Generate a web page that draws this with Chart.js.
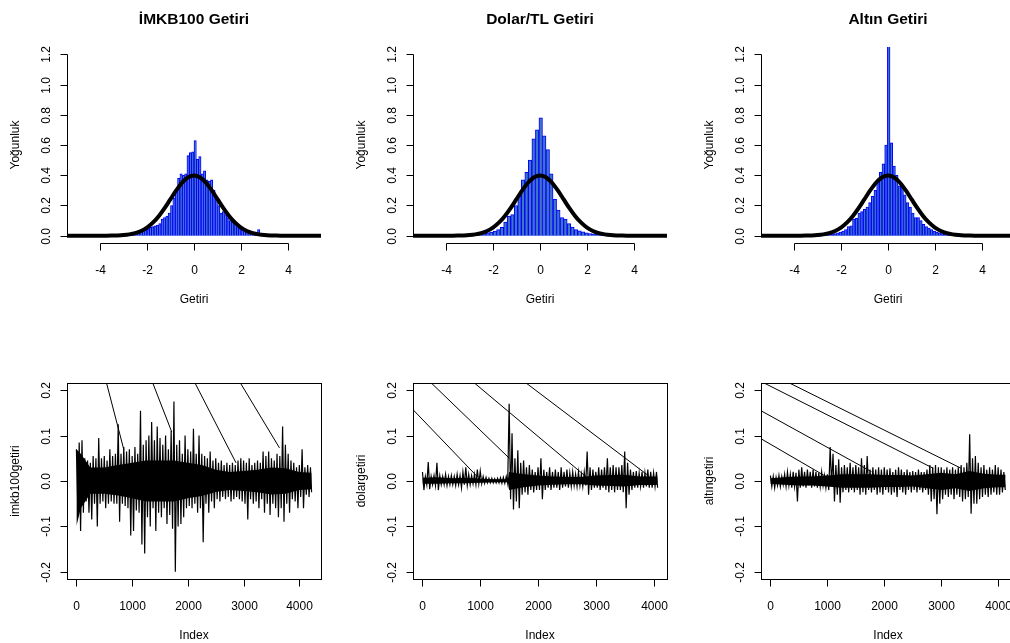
<!DOCTYPE html>
<html lang="tr">
<head>
<meta charset="utf-8">
<title>Getiri dağılımları</title>
<script src="https://cdn.jsdelivr.net/npm/chart.js@4.4.1/dist/chart.umd.min.js"></script>
<style>
  html, body { margin: 0; padding: 0; background: #fff; }
  body { width: 1010px; height: 643px; overflow: hidden; position: relative; }
  canvas { position: absolute; }
</style>
</head>
<body>
<canvas id="histImkb" width="347" height="321" style="left:0px;top:0px"></canvas>
<canvas id="histDolar" width="347" height="321" style="left:346px;top:0px"></canvas>
<canvas id="histAltin" width="347" height="321" style="left:694px;top:0px"></canvas>
<canvas id="seriesImkb" width="347" height="322" style="left:0px;top:321px"></canvas>
<canvas id="seriesDolar" width="347" height="322" style="left:346px;top:321px"></canvas>
<canvas id="seriesAltin" width="347" height="322" style="left:694px;top:321px"></canvas>
<script>
// ---- histogram data (density per bin, bins) ----
const imkbBinStart = -3.45, imkbBinWidth = 0.1;
const imkbDensity = [
  0.005, 0.01, 0.005, 0.008, 0.01, 0.01, 0.012, 0.015, 0.015, 0.02,
  0.02, 0.025, 0.03, 0.03, 0.035, 0.045, 0.055, 0.06, 0.065, 0.07,
  0.08, 0.11, 0.12, 0.13, 0.15, 0.2, 0.25, 0.3, 0.38, 0.41,
  0.40, 0.41, 0.53, 0.55, 0.555, 0.63, 0.505, 0.523, 0.41, 0.43,
  0.37, 0.36, 0.37, 0.3, 0.24, 0.2, 0.15, 0.16, 0.14, 0.12,
  0.1, 0.09, 0.08, 0.06, 0.05, 0.04, 0.035, 0.03, 0.025, 0.02,
  0.015, 0.012, 0.04, 0.01, 0.008, 0.006, 0.005, 0.006, 0.004, 0.004
];

const dolarBinStart = -3.27, dolarBinWidth = 0.15;
const dolarDensity = [
  0.004, 0.005, 0.006, 0.008, 0.01, 0.012, 0.015, 0.02, 0.025, 0.03,
  0.04, 0.055, 0.09, 0.13, 0.14, 0.2, 0.26, 0.37, 0.42, 0.5,
  0.64, 0.70, 0.78, 0.66, 0.57, 0.41, 0.24, 0.17, 0.12, 0.11,
  0.08, 0.057, 0.04, 0.033, 0.026, 0.02, 0.015, 0.012, 0.01, 0.008,
  0.006, 0.005, 0.005, 0.004, 0.003
];

const altinBinStart = -2.82, altinBinWidth = 0.114;
const altinDensity = [
  0.005, 0.006, 0.008, 0.01, 0.012, 0.015, 0.02, 0.025, 0.03, 0.04,
  0.06, 0.065, 0.11, 0.115, 0.15, 0.16, 0.175, 0.19, 0.22, 0.26,
  0.30, 0.37, 0.42, 0.475, 0.60, 1.26, 0.615, 0.46, 0.40, 0.33,
  0.32, 0.27, 0.22, 0.19, 0.15, 0.12, 0.12, 0.10, 0.075, 0.06,
  0.05, 0.04, 0.03, 0.025, 0.02, 0.015, 0.012, 0.01, 0.008, 0.006,
  0.005
];

// normal density curve drawn over every histogram
const normalX = [
  -5.5, -5.25, -5, -4.75, -4.5, -4.25, -4, -3.75, -3.5, -3.25, -3,
  -2.75, -2.5, -2.25, -2, -1.75, -1.5, -1.25, -1, -0.75, -0.5, -0.25,
  0, 0.25, 0.5, 0.75, 1, 1.25, 1.5, 1.75, 2, 2.25, 2.5, 2.75, 3,
  3.25, 3.5, 3.75, 4, 4.25, 4.5, 4.75, 5, 5.25, 5.5
];
const normalDensity = [
  0, 0, 0, 0, 0, 0, 0.0001, 0.0004, 0.0009, 0.002, 0.0044,
  0.0091, 0.0175, 0.0317, 0.054, 0.0863, 0.1295, 0.1826, 0.242, 0.3011, 0.3521, 0.3867,
  0.3989, 0.3867, 0.3521, 0.3011, 0.242, 0.1826, 0.1295, 0.0863, 0.054, 0.0317, 0.0175, 0.0091, 0.0044,
  0.002, 0.0009, 0.0004, 0.0001, 0, 0, 0, 0, 0, 0
];

const histXTicks = [-4, -2, 0, 2, 4];
const histYTicks = [0, 0.2, 0.4, 0.6, 0.8, 1.0, 1.2];

// ---- return series: high / low of each 50-observation block ----
const seriesStep = 50;
const imkbLength = 4221, dolarLength = 4070, altinLength = 4132;

const imkbUpper = [
  0.07, 0.085, 0.09, 0.05, 0.045, 0.04, 0.055, 0.05, 0.095, 0.05,
  0.055, 0.045, 0.07, 0.055, 0.06, 0.125, 0.06, 0.075, 0.065, 0.07,
  0.055, 0.075, 0.06, 0.155, 0.08, 0.09, 0.1, 0.13, 0.09, 0.12,
  0.095, 0.08, 0.1, 0.07, 0.11, 0.175, 0.08, 0.09, 0.06, 0.1,
  0.07, 0.065, 0.115, 0.06, 0.1, 0.06, 0.055, 0.05, 0.065, 0.045,
  0.05, 0.04, 0.045, 0.035, 0.04, 0.035, 0.04, 0.035, 0.045, 0.05,
  0.045, 0.04, 0.05, 0.035, 0.04, 0.045, 0.04, 0.065, 0.055, 0.065,
  0.05, 0.045, 0.06, 0.055, 0.12, 0.08, 0.06, 0.045, 0.04, 0.03,
  0.035, 0.07, 0.03, 0.035, 0.03
];
const imkbLower = [
  -0.06, -0.11, -0.07, -0.045, -0.07, -0.085, -0.05, -0.1, -0.05, -0.045,
  -0.06, -0.05, -0.045, -0.05, -0.05, -0.09, -0.05, -0.055, -0.06, -0.12,
  -0.11, -0.065, -0.07, -0.14, -0.16, -0.08, -0.1, -0.06, -0.11, -0.07,
  -0.08, -0.06, -0.095, -0.075, -0.105, -0.2, -0.1, -0.095, -0.08, -0.06,
  -0.055, -0.06, -0.05, -0.07, -0.06, -0.135, -0.05, -0.07, -0.045, -0.06,
  -0.04, -0.045, -0.035, -0.04, -0.035, -0.045, -0.04, -0.035, -0.04, -0.045,
  -0.05, -0.085, -0.04, -0.05, -0.045, -0.06, -0.04, -0.07, -0.05, -0.075,
  -0.05, -0.06, -0.08, -0.06, -0.09, -0.05, -0.07, -0.04, -0.045, -0.06,
  -0.035, -0.06, -0.03, -0.035, -0.025
];
// solid core of the band
const imkbCoreIndex = [1, 80, 250, 500, 750, 1000, 1250, 1500, 1750, 2000, 2250, 2500, 2750, 3000, 3250, 3500, 3750, 4000, 4221];
const imkbCoreUpper = [0.07, 0.06, 0.03, 0.03, 0.035, 0.04, 0.045, 0.045, 0.045, 0.04, 0.035, 0.025, 0.02, 0.022, 0.025, 0.03, 0.028, 0.02, 0.018];
const imkbCoreLower = [-0.1, -0.06, -0.028, -0.028, -0.032, -0.038, -0.045, -0.045, -0.045, -0.038, -0.033, -0.024, -0.02, -0.022, -0.025, -0.03, -0.028, -0.02, -0.018];

const dolarUpper = [
  0.02, 0.01, 0.042, 0.01, 0.012, 0.04, 0.012, 0.01, 0.015, 0.01,
  0.012, 0.01, 0.015, 0.012, 0.02, 0.03, 0.015, 0.012, 0.015, 0.025,
  0.022, 0.01, 0.008, 0.006, 0.006, 0.005, 0.006, 0.007, 0.008, 0.01,
  0.17, 0.105, 0.05, 0.068, 0.04, 0.045, 0.03, 0.035, 0.025, 0.02,
  0.03, 0.05, 0.025, 0.02, 0.03, 0.02, 0.025, 0.02, 0.03, 0.02,
  0.025, 0.018, 0.02, 0.015, 0.02, 0.015, 0.02, 0.065, 0.03, 0.025,
  0.02, 0.03, 0.025, 0.03, 0.05, 0.03, 0.035, 0.03, 0.03, 0.035,
  0.065, 0.04, 0.025, 0.02, 0.022, 0.018, 0.02, 0.018, 0.025, 0.02,
  0.018, 0.02
];
const dolarLower = [
  -0.02, -0.008, -0.018, -0.008, -0.01, -0.02, -0.008, -0.008, -0.01, -0.008,
  -0.008, -0.01, -0.008, -0.015, -0.008, -0.01, -0.008, -0.006, -0.008, -0.006,
  -0.006, -0.005, -0.004, -0.004, -0.004, -0.004, -0.004, -0.005, -0.005, -0.006,
  -0.04, -0.063, -0.045, -0.06, -0.03, -0.025, -0.03, -0.02, -0.025, -0.02,
  -0.02, -0.04, -0.02, -0.015, -0.02, -0.015, -0.015, -0.02, -0.015, -0.012,
  -0.015, -0.012, -0.01, -0.012, -0.01, -0.012, -0.01, -0.03, -0.02, -0.015,
  -0.015, -0.02, -0.015, -0.02, -0.025, -0.02, -0.025, -0.02, -0.02, -0.025,
  -0.06, -0.03, -0.02, -0.015, -0.015, -0.012, -0.015, -0.012, -0.015, -0.015,
  -0.012, -0.015
];
const dolarCoreIndex = [1, 250, 500, 750, 1000, 1250, 1480, 1500, 1750, 2000, 2250, 2500, 2750, 3000, 3250, 3500, 3750, 4000, 4070];
const dolarCoreUpper = [0.007, 0.008, 0.006, 0.007, 0.005, 0.004, 0.004, 0.02, 0.015, 0.012, 0.01, 0.009, 0.009, 0.012, 0.013, 0.014, 0.01, 0.01, 0.01];
const dolarCoreLower = [-0.006, -0.006, -0.005, -0.005, -0.004, -0.003, -0.003, -0.02, -0.014, -0.01, -0.008, -0.007, -0.007, -0.01, -0.011, -0.012, -0.009, -0.009, -0.008];

const altinUpper = [
  0.012, 0.01, 0.008, 0.012, 0.01, 0.015, 0.02, 0.015, 0.02, 0.018,
  0.025, 0.03, 0.02, 0.025, 0.02, 0.025, 0.02, 0.018, 0.02, 0.012,
  0.015, 0.075, 0.06, 0.035, 0.048, 0.03, 0.035, 0.03, 0.04, 0.03,
  0.035, 0.03, 0.05, 0.035, 0.055, 0.025, 0.03, 0.025, 0.03, 0.025,
  0.03, 0.025, 0.028, 0.02, 0.025, 0.03, 0.025, 0.02, 0.025, 0.02,
  0.022, 0.02, 0.025, 0.02, 0.02, 0.025, 0.035, 0.03, 0.035, 0.03,
  0.03, 0.025, 0.03, 0.025, 0.03, 0.025, 0.03, 0.035, 0.03, 0.04,
  0.103, 0.05, 0.055, 0.04, 0.03, 0.035, 0.025, 0.03, 0.025, 0.035,
  0.03, 0.025, 0.02
];
const altinLower = [
  -0.012, -0.015, -0.01, -0.012, -0.008, -0.012, -0.01, -0.015, -0.012, -0.045,
  -0.015, -0.012, -0.015, -0.01, -0.015, -0.012, -0.015, -0.012, -0.01, -0.015,
  -0.02, -0.01, -0.045, -0.03, -0.048, -0.025, -0.02, -0.025, -0.02, -0.025,
  -0.02, -0.03, -0.025, -0.03, -0.02, -0.025, -0.02, -0.03, -0.025, -0.03,
  -0.02, -0.025, -0.03, -0.025, -0.035, -0.02, -0.025, -0.03, -0.02, -0.025,
  -0.02, -0.025, -0.02, -0.025, -0.02, -0.03, -0.045, -0.04, -0.073, -0.05,
  -0.04, -0.03, -0.035, -0.03, -0.04, -0.03, -0.035, -0.045, -0.04, -0.035,
  -0.072, -0.05, -0.05, -0.04, -0.035, -0.03, -0.035, -0.03, -0.025, -0.03,
  -0.03, -0.025, -0.02
];
const altinCoreIndex = [1, 250, 500, 750, 1000, 1250, 1500, 1750, 2000, 2250, 2500, 2750, 3000, 3250, 3500, 3750, 4000, 4132];
const altinCoreUpper = [0.006, 0.008, 0.01, 0.01, 0.012, 0.015, 0.015, 0.015, 0.013, 0.013, 0.012, 0.015, 0.018, 0.015, 0.022, 0.016, 0.014, 0.014];
const altinCoreLower = [-0.006, -0.008, -0.01, -0.01, -0.012, -0.015, -0.015, -0.015, -0.013, -0.013, -0.012, -0.016, -0.02, -0.016, -0.022, -0.016, -0.014, -0.014];

// straight strokes that cross each series panel: [index1, value1, index2, value2]
const imkbStrokes = [[364, 0.3, 852, 0.069], [1106, 0.3, 1712, 0.108], [1778, 0.3, 2865, 0.04], [2532, 0.3, 3645, 0.073]];
const dolarStrokes = [[-500, 0.202, 951, 0.0095], [-530, 0.3, 1505, 0.05], [114, 0.3, 2832, 0.0095], [924, 0.3, 3898, 0.013]];
const altinStrokes = [[-600, 0.125, 982, 0.0095], [-600, 0.185, 1776, 0.0205], [-600, 0.247, 2862, 0.028], [-1013, 0.3, 3351, 0.028]];

const seriesXTicks = [0, 1000, 2000, 3000, 4000];
const seriesYTicks = [-0.2, -0.1, 0, 0.1, 0.2];

const FONT = '"Liberation Sans", Arial, Helvetica, sans-serif';

// R-like axes drawn from the chart's own scales
function rStyleAxes(cfg) {
    return {
        id: 'rStyleAxes',
        afterDraw(chart) {
            const ctx = chart.ctx;
            const area = chart.chartArea;
            const xs = chart.scales.x;
            const ys = chart.scales.y;
            const bottom = Math.round(area.bottom) + 0.5;
            const left = Math.round(area.left) + 0.5;

            ctx.save();
            ctx.strokeStyle = '#000';
            ctx.fillStyle = '#000';
            ctx.lineWidth = 1;

            if (cfg.box) {
                ctx.strokeRect(left, Math.round(area.top) + 0.5,
                    Math.round(area.right) - Math.round(area.left),
                    Math.round(area.bottom) - Math.round(area.top));
            }

            const xp = cfg.xTicks.map(v => Math.round(xs.getPixelForValue(v)) + 0.5);
            const yp = cfg.yTicks.map(v => Math.round(ys.getPixelForValue(v)) + 0.5);

            ctx.beginPath();
            ctx.moveTo(xp[0], bottom);
            ctx.lineTo(xp[xp.length - 1], bottom);
            xp.forEach(p => { ctx.moveTo(p, bottom); ctx.lineTo(p, bottom + 7); });
            ctx.moveTo(left, yp[0]);
            ctx.lineTo(left, yp[yp.length - 1]);
            yp.forEach(p => { ctx.moveTo(left, p); ctx.lineTo(left - 7, p); });
            ctx.stroke();

            ctx.font = '12px ' + FONT;
            ctx.textAlign = 'center';
            ctx.textBaseline = 'middle';
            cfg.xTicks.forEach((v, i) => ctx.fillText(String(v), xp[i], area.bottom + 27.5));
            ctx.fillText(cfg.xTitle, (area.left + area.right) / 2, area.bottom + 56.5);

            cfg.yTicks.forEach((v, i) => {
                ctx.save();
                ctx.translate(area.left - 20, yp[i]);
                ctx.rotate(-Math.PI / 2);
                ctx.fillText(v.toFixed(1), 0, 0);
                ctx.restore();
            });
            ctx.save();
            ctx.translate(area.left - 51, (area.top + area.bottom) / 2);
            ctx.rotate(-Math.PI / 2);
            ctx.fillText(cfg.yTitle, 0, 0);
            ctx.restore();

            if (cfg.title) {
                ctx.font = 'bold 15.5px ' + FONT;
                ctx.fillText(cfg.title, (area.left + area.right) / 2, 19.5);
            }
            ctx.restore();
        }
    };
}

function histChart(id, title, binStart, binWidth, density) {
    const bars = density.map((v, i) => ({ x: binStart + i * binWidth, y: v }));
    const curve = normalX.map((x, i) => ({ x: x, y: normalDensity[i] }));
    new Chart(document.getElementById(id), {
        type: 'bar',
        data: {
            datasets: [{
                type: 'line',
                data: curve,
                borderColor: '#000',
                borderWidth: 4,
                pointRadius: 0,
                cubicInterpolationMode: 'monotone',
                clip: 0,
                order: 0
            }, {
                type: 'bar',
                data: bars,
                backgroundColor: 'rgb(62, 118, 196)',
                borderColor: '#0000ff',
                borderWidth: 1,
                barPercentage: 1,
                categoryPercentage: 1,
                clip: 0,
                order: 1
            }]
        },
        options: {
            responsive: false,
            animation: false,
            events: [],
            layout: { padding: { left: 67, right: 26, top: 47, bottom: 78 } },
            plugins: { legend: { display: false }, tooltip: { enabled: false } },
            scales: {
                x: { type: 'linear', min: -5.4, max: 5.4, offset: false, display: false },
                y: { type: 'linear', min: -0.048, max: 1.248, display: false }
            }
        },
        plugins: [rStyleAxes({
            title: title, box: false,
            xTicks: histXTicks, yTicks: histYTicks,
            xTitle: 'Getiri', yTitle: 'Yoğunluk'
        })]
    });
}

function seriesChart(id, yTitle, length, upper, lower, coreIndex, coreUpper, coreLower, strokes, xMin, xMax) {
    const band = [];
    upper.forEach((u, i) => {
        band.push({ x: 1 + i * seriesStep, y: u });
        band.push({ x: Math.min(1 + i * seriesStep + seriesStep / 2, length), y: lower[i] });
    });
    const coreAt = (arr) => arr.map((v, i) => ({ x: coreIndex[i], y: v }));

    const datasets = [{
        data: coreAt(coreUpper),
        borderWidth: 0,
        borderColor: 'rgba(0,0,0,0)',
        pointRadius: 0,
        clip: 0
    }, {
        data: coreAt(coreLower),
        borderWidth: 0,
        borderColor: 'rgba(0,0,0,0)',
        backgroundColor: '#000',
        fill: '-1',
        pointRadius: 0,
        clip: 0
    }, {
        data: band,
        borderColor: '#000',
        borderWidth: 1.2,
        pointRadius: 0,
        tension: 0,
        clip: 0
    }];
    strokes.forEach(s => {
        datasets.push({
            data: [{ x: s[0], y: s[1] }, { x: s[2], y: s[3] }],
            borderColor: '#000',
            borderWidth: 1,
            pointRadius: 0,
            clip: 0
        });
    });
    new Chart(document.getElementById(id), {
        type: 'line',
        data: { datasets: datasets },
        options: {
            responsive: false,
            animation: false,
            events: [],
            layout: { padding: { left: 67, right: 26, top: 62, bottom: 64 } },
            plugins: { legend: { display: false }, tooltip: { enabled: false } },
            scales: {
                x: { type: 'linear', min: xMin, max: xMax, display: false },
                y: { type: 'linear', min: -0.216, max: 0.216, display: false }
            }
        },
        plugins: [rStyleAxes({
            box: true,
            xTicks: seriesXTicks, yTicks: seriesYTicks,
            xTitle: 'Index', yTitle: yTitle
        })]
    });
}

histChart('histImkb', 'İMKB100 Getiri', imkbBinStart, imkbBinWidth, imkbDensity);
histChart('histDolar', 'Dolar/TL Getiri', dolarBinStart, dolarBinWidth, dolarDensity);
histChart('histAltin', 'Altın Getiri', altinBinStart, altinBinWidth, altinDensity);

seriesChart('seriesImkb', 'imkb100getiri', imkbLength, imkbUpper, imkbLower, imkbCoreIndex, imkbCoreUpper, imkbCoreLower, imkbStrokes, -168, 4390);
seriesChart('seriesDolar', 'dolargetiri', dolarLength, dolarUpper, dolarLower, dolarCoreIndex, dolarCoreUpper, dolarCoreLower, dolarStrokes, -163, 4233);
seriesChart('seriesAltin', 'altıngetiri', altinLength, altinUpper, altinLower, altinCoreIndex, altinCoreUpper, altinCoreLower, altinStrokes, -164, 4297);
</script>
</body>
</html>
